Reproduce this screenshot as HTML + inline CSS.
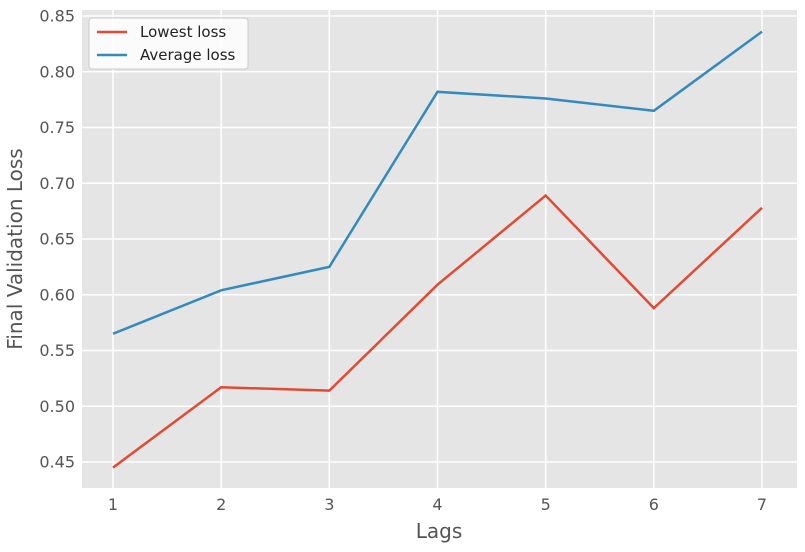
<!DOCTYPE html>
<html><head><meta charset="utf-8"><style>
body{margin:0;background:#fff;font-family:"DejaVu Sans","Liberation Sans",sans-serif;}
</style></head><body>
<svg id="chart" width="805" height="548" xmlns="http://www.w3.org/2000/svg">
<rect x="82" y="10" width="715" height="478" fill="#E5E5E5"/>
<g id="grid"></g><g id="ticks"></g><g id="lines"></g>
<text x="439" y="538" text-anchor="middle" font-size="20" fill="#555">Lags</text>
<text transform="translate(22,249) rotate(-90)" text-anchor="middle" font-size="20" fill="#555">Final Validation Loss</text>
<g>
<rect x="89" y="18" width="159" height="51" rx="3" fill="#fff" fill-opacity="0.85" stroke="#ccc"/>
<g><line x1="97" y1="32" x2="127" y2="32" stroke="#E24A33" stroke-width="2.5"/>
<text x="140" y="37" font-size="15" fill="#222">Lowest loss</text></g>
<g><line x1="97" y1="55" x2="127" y2="55" stroke="#348ABD" stroke-width="2.5"/>
<text x="140" y="60" font-size="15" fill="#222">Average loss</text></g>
</g>
</svg>
<script>
const lags=[1,2,3,4,5,6,7];
const lowestLoss=[0.445,0.517,0.514,0.609,0.689,0.588,0.678];
const averageLoss=[0.565,0.604,0.625,0.782,0.776,0.765,0.836];
const yTicks=[0.45,0.50,0.55,0.60,0.65,0.70,0.75,0.80,0.85];
const NS="http://www.w3.org/2000/svg";
function xs(v){return 113+(v-1)*(762-113)/6;}
function ys(v){return 462-(v-0.45)*(462-16)/0.4;}
const grid=document.getElementById('grid'),ticks=document.getElementById('ticks'),lines=document.getElementById('lines');
function mk(tag,a,p){const e=document.createElementNS(NS,tag);for(const k in a)e.setAttribute(k,a[k]);p.appendChild(e);return e;}
yTicks.forEach(t=>{const y=ys(t);
const g=mk('line',{x1:82,x2:797,y1:y,y2:y,stroke:'#fff','stroke-width':1.5},grid);


const tx=mk('text',{x:75,y:y+5.5,'text-anchor':'end','font-size':16,fill:'#555'},ticks);tx.textContent=t.toFixed(2);

});
lags.forEach(t=>{const x=xs(t);
const g=mk('line',{x1:x,x2:x,y1:10,y2:488,stroke:'#fff','stroke-width':1.5},grid);


const tx=mk('text',{x:x,y:510,'text-anchor':'middle','font-size':16,fill:'#555'},ticks);tx.textContent=t;

});
function series(vals,color,name){const p=mk('polyline',{points:vals.map((v,i)=>xs(lags[i])+','+ys(v)).join(' '),fill:'none',stroke:color,'stroke-width':2.5},lines);

}
series(lowestLoss,'#E24A33','lowest-loss-line');
series(averageLoss,'#348ABD','average-loss-line');
</script>
</body></html>
